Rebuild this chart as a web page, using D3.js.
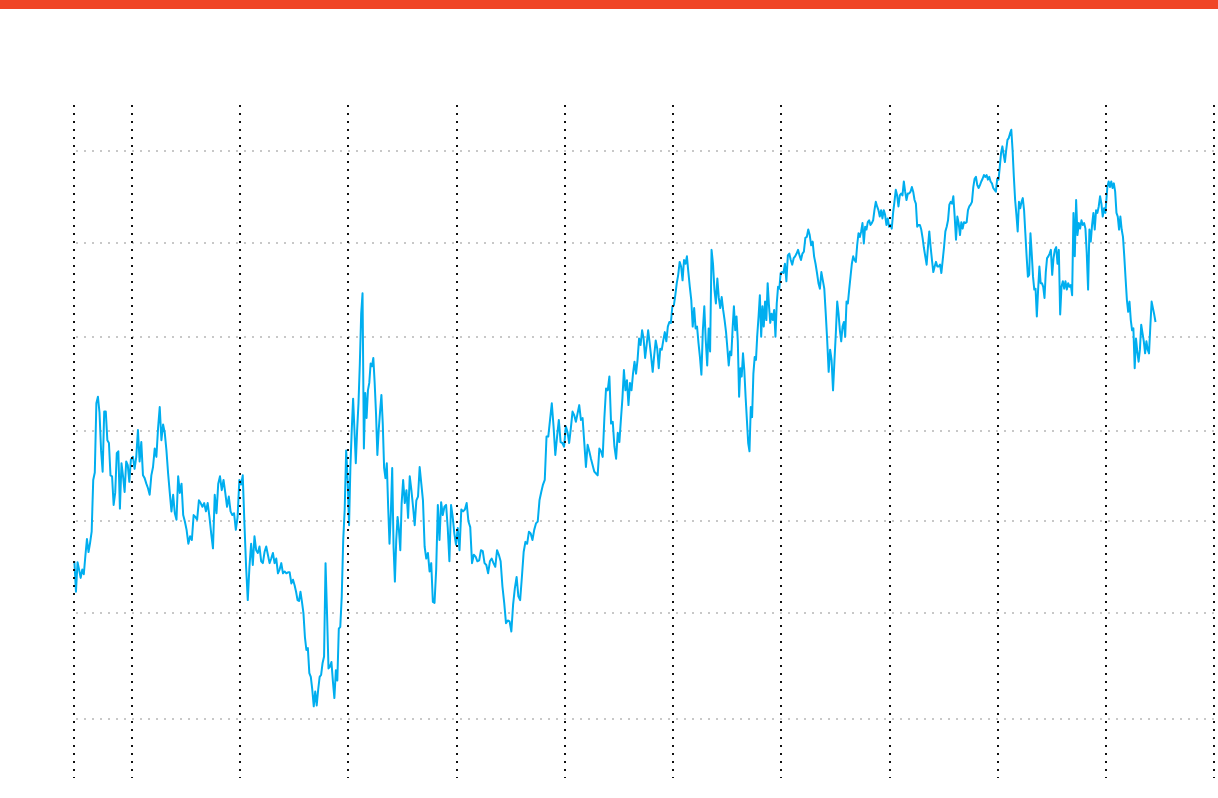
<!DOCTYPE html>
<html>
<head>
<meta charset="utf-8">
<script src="https://cdn.jsdelivr.net/npm/d3@7"></script>
<style>
  html, body { margin: 0; padding: 0; background: #ffffff; }
  svg { display: block; }
</style>
</head>
<body>
<svg id="chart" width="1218" height="798"></svg>
<script>
// ---- data ----
const domainStart = "2013-06-19";
const domainEnd = "2024-01-01";
const seriesStart = "2013-06-19";
const seriesEnd = "2023-06-17";
const yTicks = [38.5, 50, 60, 69.7, 79.9, 90, 100];

// values per half-year (first/second half of each calendar year)
const v2013b = [55.6, 52.3, 55.5, 54.7, 53.8, 54.7, 54.2, 56.2, 58.0, 56.6, 57.6, 58.8, 64.4, 65.2, 72.7, 73.4, 71.7, 67.6, 65.3, 71.8, 71.8, 68.7, 68.4, 64.9, 64.8, 61.7, 63.0, 67.3, 67.5, 61.3, 66.2, 64.8, 63.1, 66.4, 66.0, 64.2, 66.6];
const v2014a = [66.9, 65.6, 66.9, 69.8, 66.4, 68.5, 64.9, 64.6, 64.0, 63.5, 62.8, 64.9, 65.8, 67.8, 66.9, 70.0, 72.3, 68.7, 70.4, 69.5, 67.6, 65.1, 63.0, 61.0, 62.8, 60.8, 60.1, 64.8, 63.0, 64.0, 60.6, 59.9];
const v2014b = [59.0, 57.5, 58.3, 57.9, 60.6, 60.4, 60.1, 62.2, 61.9, 61.5, 61.9, 61.0, 61.9, 60.4, 58.6, 57.0, 62.8, 60.8, 64.0, 64.8, 63.3, 64.4, 63.0, 61.5, 62.6, 61.0, 60.6, 60.8, 59.0, 60.4, 64.4];
const v2015a = [63.9, 64.9, 59.7, 55.0, 51.4, 55.0, 57.5, 55.2, 58.3, 56.8, 56.5, 57.2, 55.6, 55.4, 56.6, 57.2, 56.3, 55.4, 55.9, 56.5, 55.4, 55.9, 54.3, 54.7, 55.4, 54.3, 54.5, 54.3, 54.4, 54.4, 53.2, 53.6];
const v2015b = [53.0, 52.3, 51.4, 51.3, 52.3, 51.2, 50.0, 47.4, 46.0, 46.2, 43.5, 43.1, 41.7, 39.9, 41.5, 40.0, 41.7, 43.1, 43.3, 44.6, 45.3, 55.4, 50.0, 44.0, 44.2, 44.7, 42.6, 40.8, 43.8, 42.7, 48.3, 48.5, 51.8, 57.9, 61.2, 67.6, 64.4];
const v2016a = [59.5, 65.8, 69.8, 73.2, 69.8, 66.2, 69.8, 72.7, 77.0, 82.4, 84.6, 67.8, 73.8, 71.1, 74.1, 74.9, 77.0, 76.7, 77.6, 74.9, 71.6, 67.1, 69.8, 71.8, 73.6, 70.5, 65.7, 64.6, 66.2, 61.5, 57.5, 60.8, 65.7, 57.2, 53.4, 57.9, 60.4, 59.0, 56.8, 61.9];
const v2016b = [64.4, 61.9, 63.3, 60.3, 64.8, 63.3, 61.5, 59.5, 62.2, 62.6, 65.8, 64.0, 62.2, 57.2, 55.9, 56.5, 54.5, 55.4, 51.2, 51.1, 54.7, 61.7, 57.9, 62.0, 60.6, 61.5, 61.7, 59.2, 55.6, 61.7, 60.4, 58.6, 57.4];
const v2017a = [59.2, 56.8, 61.2, 61.0, 61.2, 61.9, 59.9, 59.3, 55.4, 56.3, 56.1, 55.6, 55.7, 56.8, 56.7, 55.4, 55.2, 54.3, 55.6, 55.9, 55.4, 55.0, 56.8, 56.3, 55.6, 52.9, 51.1, 48.9, 49.2, 49.1];
const v2017b = [48.0, 50.9, 52.7, 53.9, 51.8, 51.4, 53.9, 56.6, 57.7, 57.5, 58.8, 58.6, 57.9, 59.0, 59.7, 59.9, 62.2, 63.1, 63.9, 64.4, 69.1, 69.1, 70.9, 72.7, 70.2, 67.1, 69.1, 70.9, 68.5, 68.4, 68.0];
const v2018a = [70.2, 69.6, 68.4, 70.0, 71.8, 71.4, 70.7, 71.6, 72.5, 70.9, 71.1, 68.5, 65.8, 68.2, 67.5, 66.7, 66.0, 65.3, 65.1, 64.9, 67.8, 67.5, 66.9, 71.1, 74.3, 74.1, 75.6, 70.5, 70.7, 68.0, 66.7, 69.5];
const v2018b = [68.5, 70.9, 73.2, 76.3, 74.1, 75.2, 72.5, 74.9, 74.1, 75.9, 77.2, 75.9, 77.4, 79.7, 79.0, 80.6, 79.7, 77.6, 79.0, 80.6, 79.2, 77.7, 76.1, 77.9, 79.5, 78.6, 76.5, 78.6, 78.5, 79.5, 80.4, 79.4, 81.0, 81.5, 81.4, 83.2];
const v2019a = [83.3, 84.4, 85.7, 86.6, 88.0, 87.5, 86.0, 88.2, 87.8, 88.6, 86.9, 85.3, 83.9, 81.0, 83.0, 80.8, 81.0, 79.2, 77.7, 75.8, 80.6, 83.2, 79.5, 76.8, 80.8, 78.3, 89.3, 87.8, 85.0, 83.5, 86.2, 84.1, 83.0, 84.2, 82.8, 81.7, 80.4];
const v2019b = [78.6, 76.8, 78.3, 77.9, 80.8, 83.2, 80.6, 82.1, 79.4, 73.4, 76.5, 75.6, 78.1, 76.3, 73.4, 70.9, 68.4, 67.5, 72.3, 71.2, 75.9, 77.7, 77.4, 80.1, 82.1, 84.4, 79.9, 83.2, 81.0, 83.7, 81.7, 85.7, 83.3, 81.4, 82.4, 81.7, 82.8, 79.9, 83.5, 85.3, 85.1, 86.8];
const v2020a = [86.9, 86.8, 87.8, 85.9, 88.7, 88.9, 88.2, 87.7, 88.4, 88.6, 88.9, 89.3, 88.7, 88.2, 88.9, 89.1, 90.6, 90.7, 91.5, 90.9, 89.8, 90.2, 88.6, 87.8, 86.8, 85.7, 85.1, 86.9, 86.0, 85.1, 82.4, 79.5, 76.1, 78.5, 77.4, 74.1, 77.4];
const v2020b = [80.4, 83.7, 82.4, 80.6, 79.4, 81.0, 81.5, 79.9, 83.7, 83.5, 85.0, 86.4, 87.8, 88.6, 88.2, 88.0, 89.8, 91.1, 90.7, 91.3, 92.2, 90.0, 91.8, 91.5, 92.3, 92.5, 92.0, 92.2, 92.5, 93.6, 94.5, 94.0, 93.6, 92.9, 93.6, 92.7, 93.6, 93.1, 92.0, 92.7, 91.8];
const v2021a = [92.0, 91.6, 93.3, 94.5, 95.8, 95.2, 94.0, 95.2, 95.4, 95.2, 96.7, 95.6, 94.7, 95.4, 95.4, 95.6, 96.1, 95.6, 94.7, 94.3, 91.8, 92.0, 92.0, 91.5, 90.6, 89.5, 88.6, 87.7, 89.6, 91.3, 89.6, 88.2, 86.9, 87.5, 88.0, 87.5, 87.5, 87.7, 86.8, 88.2];
const v2021b = [89.6, 91.3, 91.8, 92.5, 94.2, 94.5, 94.3, 95.1, 92.9, 90.4, 92.9, 92.2, 90.9, 92.3, 91.6, 92.3, 92.2, 92.3, 93.6, 94.0, 94.2, 94.5, 96.1, 97.0, 97.2, 96.3, 96.0, 96.3, 96.7, 97.0, 97.4, 97.2, 97.4, 96.9, 97.2, 96.7, 96.5, 96.0, 95.8, 95.6, 97.0];
const v2022a = [96.9, 98.3, 99.8, 100.5, 99.6, 98.8, 100.1, 101.2, 101.4, 101.9, 102.3, 100.1, 97.2, 94.7, 93.1, 91.3, 94.5, 93.8, 94.5, 94.9, 93.6, 91.1, 88.6, 86.4, 86.6, 91.1, 88.9, 86.4, 85.0, 85.1, 82.1, 85.0, 87.5, 85.7, 85.7, 85.3, 84.1, 86.9, 88.4, 88.6, 88.9, 89.3];
const v2022b = [86.6, 88.4, 89.3, 89.6, 87.8, 89.3, 82.3, 85.3, 85.9, 85.1, 85.9, 85.0, 85.7, 85.3, 85.5, 84.4, 93.3, 88.6, 94.7, 90.9, 92.2, 91.6, 92.5, 92.0, 92.2, 91.6, 88.9, 85.0, 91.5, 90.2, 92.0, 93.3, 91.5, 93.6, 93.3, 94.0, 95.1, 94.3, 92.9, 93.8, 93.3];
const v2023a = [96.1, 96.7, 96.1, 96.7, 96.0, 96.5, 95.6, 93.3, 92.9, 91.5, 92.9, 91.5, 90.7, 88.6, 86.2, 83.9, 82.6, 83.7, 81.7, 80.6, 80.8, 76.5, 79.7, 78.3, 77.2, 78.5, 81.2, 80.3, 79.4, 78.1, 79.4, 78.5, 78.1, 81.0, 83.7, 83.0, 82.3, 81.5];

const segments = [v2013b,
  v2014a, v2014b, v2015a, v2015b, v2016a, v2016b, v2017a, v2017b,
  v2018a, v2018b, v2019a, v2019b, v2020a, v2020b, v2021a, v2021b,
  v2022a, v2022b, v2023a];

// ---- layout ----
const W = 1218, H = 798;
const plotLeft = 74, plotRight = 1214.2;
const plotBottom = 778;

const parse = d3.utcParse("%Y-%m-%d");
const x = d3.scaleUtc()
  .domain([parse(domainStart), parse(domainEnd)])
  .range([plotLeft, plotRight]);
const y = d3.scaleLinear()
  .domain([38.5, 100])
  .range([719.3, 151]);

// segment boundaries: series start, Jan 1 / Jul 1 of each full year, series end
const bounds = [parse(seriesStart)];
d3.range(2014, 2023).forEach(yr => {
  bounds.push(new Date(Date.UTC(yr, 0, 1)));
  bounds.push(new Date(Date.UTC(yr, 6, 1)));
});
bounds.push(new Date(Date.UTC(2023, 0, 1)));
bounds.push(parse(seriesEnd));

const points = [];
segments.forEach((vals, k) => {
  const a = +bounds[k], b = +bounds[k + 1];
  const n = vals.length;
  vals.forEach((v, i) => {
    let f;
    if (k === 0) f = (i + 0.25) / n;
    else if (k === segments.length - 1) f = (i + 1) / n;
    else f = (i + 0.5) / n;
    points.push({ date: new Date(a + f * (b - a)), value: v });
  });
});

const svg = d3.select("#chart");

// top red bar
svg.append("rect")
  .attr("x", 0).attr("y", 0)
  .attr("width", W).attr("height", 9)
  .attr("fill", "#f04526");

// horizontal gray dotted gridlines
svg.append("g").selectAll("line")
  .data(yTicks)
  .join("line")
  .attr("x1", 76).attr("x2", W)
  .attr("y1", d => Math.round(y(d)))
  .attr("y2", d => Math.round(y(d)))
  .attr("stroke", "#c8c8c8")
  .attr("stroke-width", 2)
  .attr("stroke-dasharray", "2,6");

// data line
const line = d3.line()
  .x(d => x(d.date))
  .y(d => y(d.value));

svg.append("path")
  .datum(points)
  .attr("d", line)
  .attr("fill", "none")
  .attr("stroke", "#00aeef")
  .attr("stroke-width", 2)
  .attr("stroke-linejoin", "round");

// vertical black dotted lines: plot left edge and each year start
const xLines = [parse(domainStart), ...x.ticks(d3.utcYear.every(1))];
svg.append("g").selectAll("line")
  .data(xLines)
  .join("line")
  .attr("x1", d => Math.round(x(d)))
  .attr("x2", d => Math.round(x(d)))
  .attr("y1", 105).attr("y2", plotBottom)
  .attr("stroke", "#111111")
  .attr("stroke-width", 2)
  .attr("stroke-dasharray", "2,6");
</script>
</body>
</html>
